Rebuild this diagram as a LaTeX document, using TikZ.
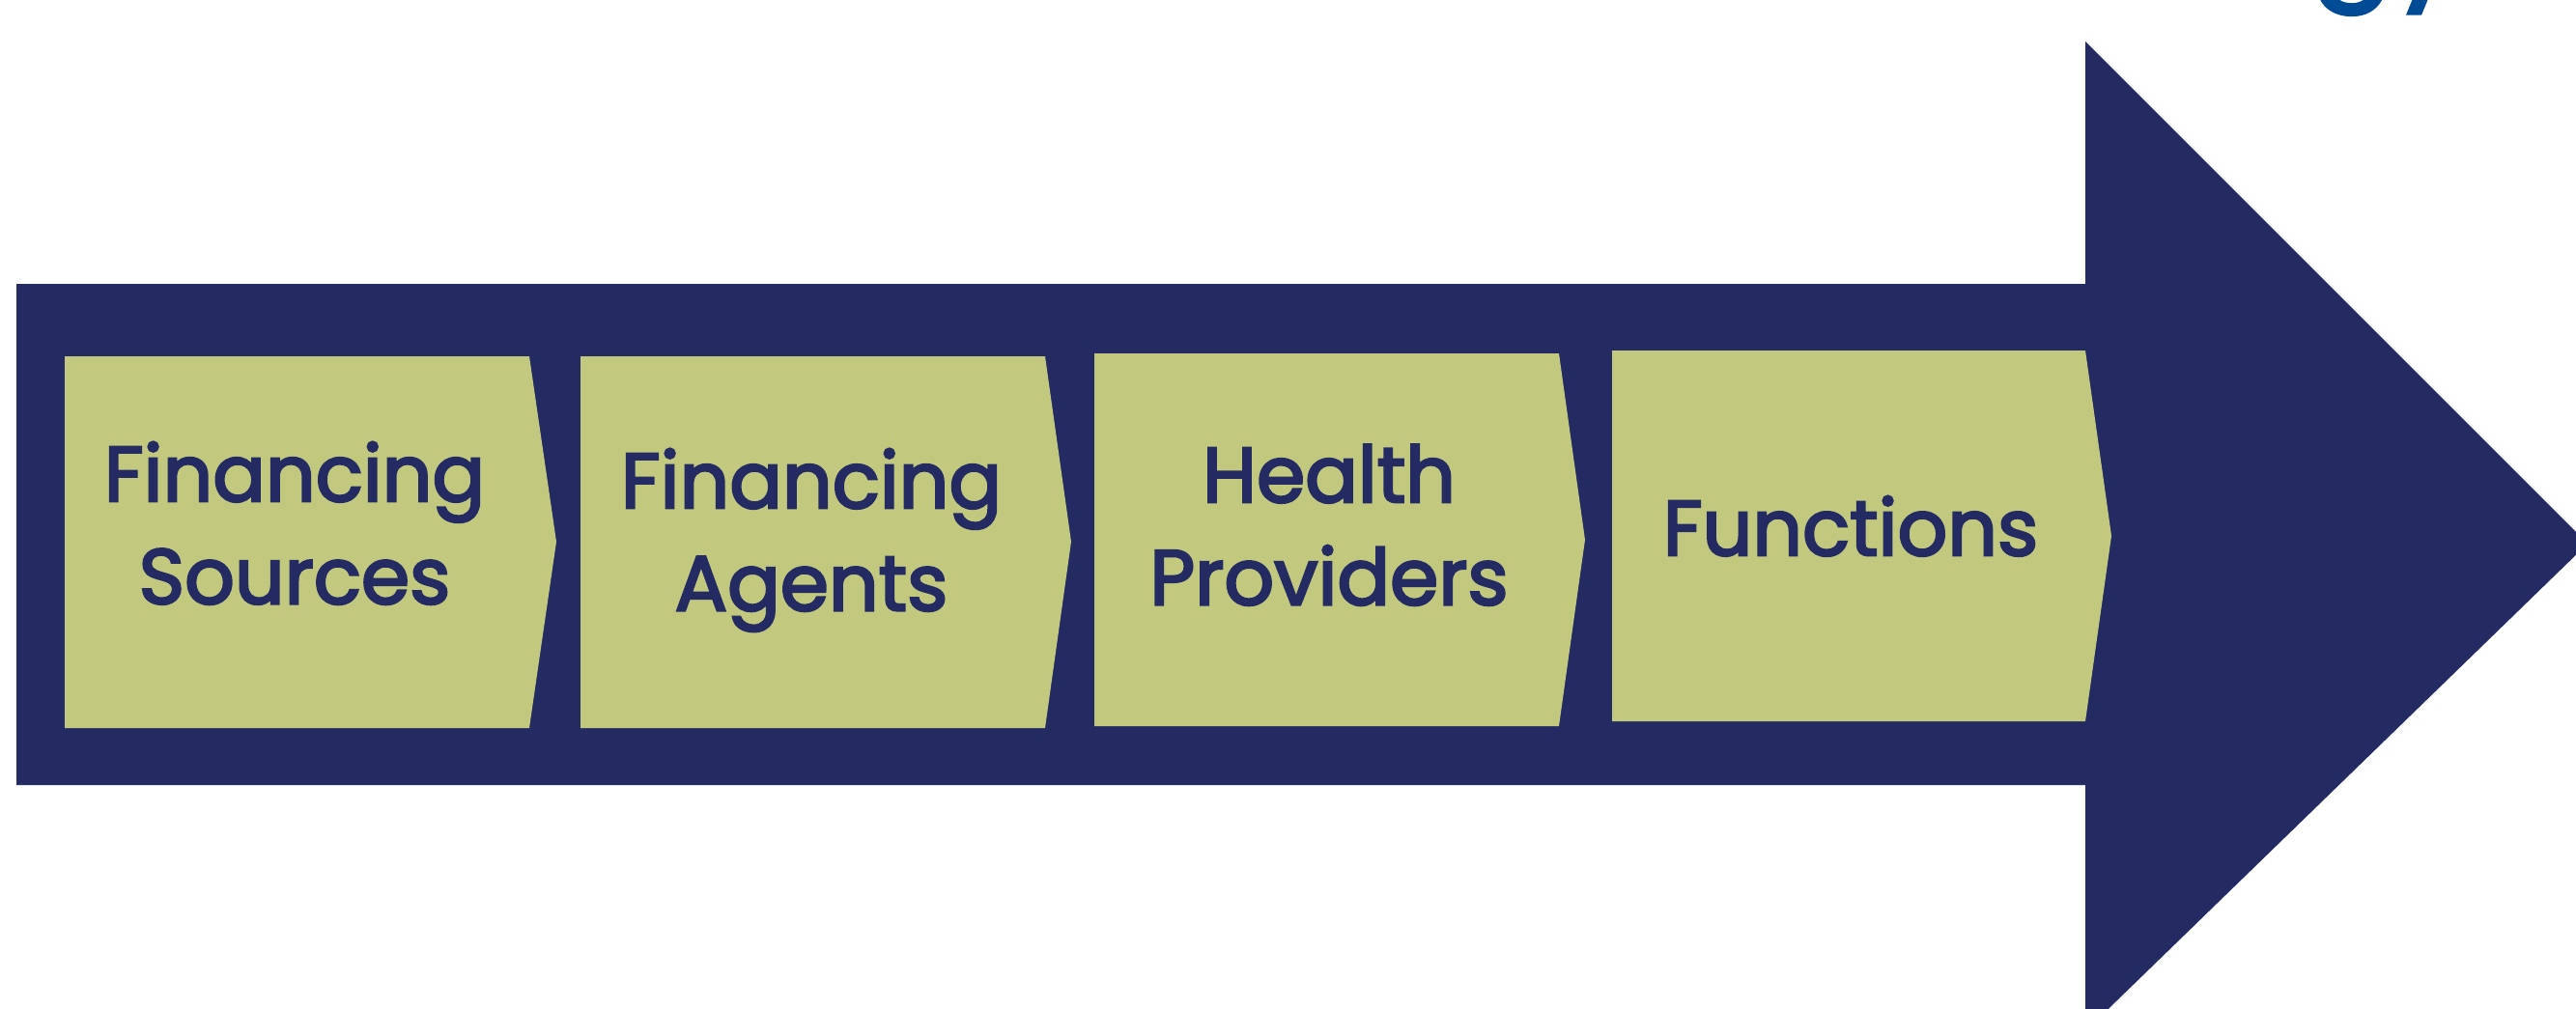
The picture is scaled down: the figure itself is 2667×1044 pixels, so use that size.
\documentclass[tikz,border=0pt]{standalone}
\usepackage{xcolor}
\usepackage{fontspec}
\setmainfont{Poppins}
\newfontfamily\stagefont{Poppins}[FakeBold=3]
\usepackage{tikz}

\definecolor{navy}{HTML}{232B62}
\definecolor{olive}{HTML}{C2C97F}
\definecolor{titleblue}{HTML}{004B93}

\begin{document}
\begin{tikzpicture}[x=0.01cm, y=-0.01cm,
    stage/.style={fill=olive},
    stagetext/.style={align=center, text=navy, font=\stagefont\fontsize{23}{30.2}\selectfont}]
\useasboundingbox (0,0) rectangle (2667,1044);
\clip (0,0) rectangle (2667,1044);

% title, only its tail shows
\node[anchor=base west, text=titleblue, font=\stagefont\fontsize{36}{36}\selectfont] (title) at (2380,-19) {gy};

% big arrow
\fill[navy] (17,294) -- (2159,294) -- (2159,43) -- (2679,563) -- (2159,1068) -- (2159,813) -- (17,813) -- cycle;

\fill[stage] (67,369) -- (548,369) -- (576,561) -- (548,754) -- (67,754) -- cycle;
\node[stagetext] (sources) at (305,551) {Financing\strut\\Sources\strut};

\fill[stage] (601,369) -- (1082,369) -- (1109,561) -- (1082,754) -- (601,754) -- cycle;
\node[stagetext] (agents) at (840,558) {Financing\strut\\Agents\strut};

\fill[stage] (1133,366) -- (1614,366) -- (1641,559) -- (1614,752) -- (1133,752) -- cycle;
\node[stagetext] (providers) at (1376,552) {Health\strut\\Providers\strut};

\fill[stage] (1669,363) -- (2159,363) -- (2186,555) -- (2159,747) -- (1669,747) -- cycle;
\node[stagetext] (functions) at (1916,554) {Functions\strut};
\end{tikzpicture}
\end{document}
